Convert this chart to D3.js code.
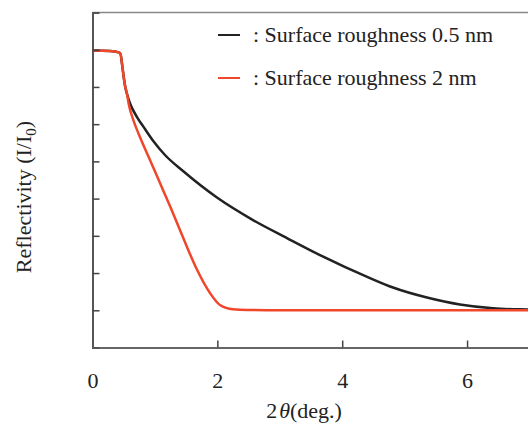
<!DOCTYPE html>
<html><head><meta charset="utf-8">
<script src="https://cdn.jsdelivr.net/npm/d3@7"></script>
<style>body{margin:0;background:#fff}svg{display:block}text{font-family:"Liberation Serif","Times New Roman",serif;fill:#222}</style>
</head><body><svg id="c" width="528" height="425"></svg>
<script>
// 2θ (deg.) and log10 reflectivity readings
const xBlack = [0, 0.28, 0.42, 0.449, 0.473, 0.50, 0.525, 0.553, 0.605, 0.713, 0.841, 0.98, 1.161, 1.45, 1.994, 2.571, 3.115, 3.644, 4.445, 4.813, 5.358, 5.886, 6.415, 6.815, 7.0];
const logBlack = [-0.021, -0.035, -0.07, -0.116, -0.384, -0.733, -1.002, -1.19, -1.459, -1.808, -2.131, -2.466, -2.829, -3.259, -3.971, -4.576, -5.06, -5.517, -6.135, -6.389, -6.658, -6.846, -6.948, -6.975, -6.98];
const xRed = [0, 0.28, 0.42, 0.449, 0.473, 0.50, 0.525, 0.553, 0.58, 0.66, 0.74, 0.921, 1.081, 1.241, 1.454, 1.669, 1.882, 2.042, 2.251, 2.491, 2.998, 7.0];
const logRed = [-0.021, -0.035, -0.07, -0.116, -0.384, -0.733, -1.002, -1.19, -1.459, -1.916, -2.265, -2.963, -3.581, -4.199, -5.059, -5.892, -6.537, -6.859, -6.975, -6.993, -7.0, -7.0];
const xTicks = [0, 2, 4, 6];
const yTicks = [1e-7, 1e-6, 1e-5, 1e-4, 1e-3, 1e-2, 1e-1, 1];
const seriesNames = [": Surface roughness 0.5 nm", ": Surface roughness 2 nm"];
const seriesColors = ["#222222", "#f0462a"];

const svg = d3.select("#c");
const x = d3.scaleLinear().domain([0, 7]).range([92.5, 529.5]);
const y = d3.scaleLog().domain([1e-8, 10]).range([347.5, 12.5]);

// top border
svg.append("line").attr("x1", 92.5).attr("x2", 528).attr("y1", 12.5).attr("y2", 12.5)
  .attr("stroke", "#888").attr("stroke-width", 1.5);

const line = d3.line().x(d => x(d[0])).y(d => y(Math.pow(10, d[1]))).curve(d3.curveMonotoneX);
const dataB = xBlack.map((v, i) => [v, logBlack[i]]);
const dataR = xRed.map((v, i) => [v, logRed[i]]);
svg.append("path").datum(dataB).attr("d", line).attr("fill", "none").attr("stroke", seriesColors[0]).attr("stroke-width", 2.5);
svg.append("path").datum(dataR).attr("d", line).attr("fill", "none").attr("stroke", seriesColors[1]).attr("stroke-width", 2.5);

// axes
const xAxis = d3.axisBottom(x).tickValues(xTicks).tickSize(-7).tickPadding(25).tickFormat(d3.format("d"));
const gx = svg.append("g").attr("transform", "translate(0,347.5)").call(xAxis);
gx.select(".domain").attr("stroke", "#666").attr("stroke-width", 2);
gx.selectAll(".tick line").attr("stroke", "#444").attr("stroke-width", 1.5);
gx.selectAll("text").attr("font-size", 22).attr("fill", "#222").attr("font-family", "Liberation Serif, serif");

const yAxis = d3.axisLeft(y).tickValues(yTicks).tickSize(-7).tickFormat("");
const gy = svg.append("g").attr("transform", "translate(92.5,0)").call(yAxis);
gy.select(".domain").attr("stroke", "#555").attr("stroke-width", 2);
gy.selectAll(".tick line").attr("stroke", "#444").attr("stroke-width", 1.5);

// axis titles
const xt = svg.append("text").attr("x", 304).attr("y", 418).attr("text-anchor", "middle").attr("font-size", 22);
xt.append("tspan").text("2");
xt.append("tspan").attr("dx", 2).attr("font-style", "italic").text("θ");
xt.append("tspan").text("(deg.)");

const yt = svg.append("text").attr("transform", "translate(31,197) rotate(-90)").attr("text-anchor", "middle").attr("font-size", 22);
yt.append("tspan").text("Reflectivity (I/I");
yt.append("tspan").attr("font-size", 15).attr("dy", 5).text("0");
yt.append("tspan").attr("dy", -5).text(")");

// legend
const legY = [35, 78];
seriesNames.forEach((n, i) => {
  svg.append("line").attr("x1", 218).attr("x2", 240).attr("y1", legY[i]).attr("y2", legY[i])
    .attr("stroke", seriesColors[i]).attr("stroke-width", 2);
  svg.append("text").attr("x", 253).attr("y", legY[i] + 7).attr("font-size", 22).text(n);
});
</script></body></html>
